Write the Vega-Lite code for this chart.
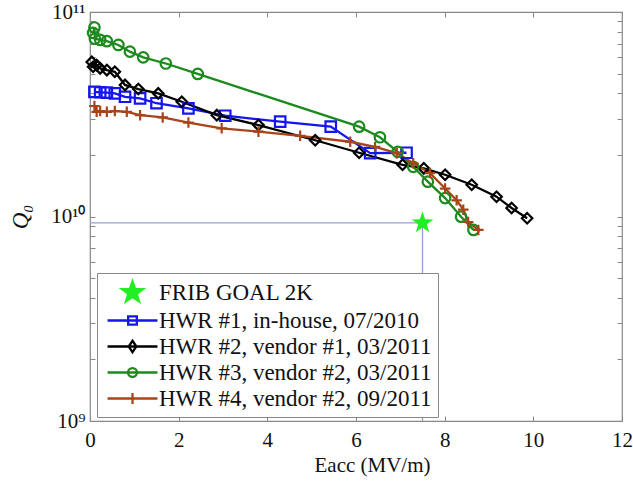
{
  "$schema": "https://vega.github.io/schema/vega-lite/v6.json",
  "width": 532,
  "height": 409,
  "autosize": {"type": "none"},
  "padding": {"left": 90, "top": 12, "right": 11, "bottom": 62},
  "background": "white",
  "config": {
    "view": {"stroke": "#888888", "strokeWidth": 1.2},
    "font": "Liberation Serif",
    "legend": {"labelFont": "Liberation Serif", "labelFontSize": 23},
    "axis": {"labelFont": "Liberation Serif", "titleFont": "Liberation Serif", "labelColor": "#111", "titleColor": "#111", "grid": false, "domain": false, "tickColor": "#888888", "tickSize": -5, "tickWidth": 1}
  },
  "datasets": {
    "runs": [
      {"series": "HWR #1, in-house, 07/2010", "cavity": "HWR #1", "e": 0.1, "q": 4.07e10},
      {"series": "HWR #1, in-house, 07/2010", "cavity": "HWR #1", "e": 0.23, "q": 4.05e10},
      {"series": "HWR #1, in-house, 07/2010", "cavity": "HWR #1", "e": 0.38, "q": 4.03e10},
      {"series": "HWR #1, in-house, 07/2010", "cavity": "HWR #1", "e": 0.56, "q": 4.0e10},
      {"series": "HWR #1, in-house, 07/2010", "cavity": "HWR #1", "e": 0.79, "q": 3.85e10},
      {"series": "HWR #1, in-house, 07/2010", "cavity": "HWR #1", "e": 1.13, "q": 3.78e10},
      {"series": "HWR #1, in-house, 07/2010", "cavity": "HWR #1", "e": 1.5, "q": 3.58e10},
      {"series": "HWR #1, in-house, 07/2010", "cavity": "HWR #1", "e": 2.22, "q": 3.38e10},
      {"series": "HWR #1, in-house, 07/2010", "cavity": "HWR #1", "e": 3.05, "q": 3.11e10},
      {"series": "HWR #1, in-house, 07/2010", "cavity": "HWR #1", "e": 4.29, "q": 2.91e10},
      {"series": "HWR #1, in-house, 07/2010", "cavity": "HWR #1", "e": 5.43, "q": 2.75e10},
      {"series": "HWR #1, in-house, 07/2010", "cavity": "HWR #1", "e": 6.32, "q": 2.04e10},
      {"series": "HWR #1, in-house, 07/2010", "cavity": "HWR #1", "e": 7.14, "q": 2.05e10},
      {"series": "HWR #2, vendor #1, 03/2011", "cavity": "HWR #2", "e": 0.04, "q": 5.7e10},
      {"series": "HWR #2, vendor #1, 03/2011", "cavity": "HWR #2", "e": 0.07, "q": 5.4e10},
      {"series": "HWR #2, vendor #1, 03/2011", "cavity": "HWR #2", "e": 0.15, "q": 5.5e10},
      {"series": "HWR #2, vendor #1, 03/2011", "cavity": "HWR #2", "e": 0.23, "q": 5.3e10},
      {"series": "HWR #2, vendor #1, 03/2011", "cavity": "HWR #2", "e": 0.38, "q": 5.2e10},
      {"series": "HWR #2, vendor #1, 03/2011", "cavity": "HWR #2", "e": 0.56, "q": 5.1e10},
      {"series": "HWR #2, vendor #1, 03/2011", "cavity": "HWR #2", "e": 0.79, "q": 4.4e10},
      {"series": "HWR #2, vendor #1, 03/2011", "cavity": "HWR #2", "e": 1.09, "q": 4.2e10},
      {"series": "HWR #2, vendor #1, 03/2011", "cavity": "HWR #2", "e": 1.54, "q": 4.0e10},
      {"series": "HWR #2, vendor #1, 03/2011", "cavity": "HWR #2", "e": 2.07, "q": 3.64e10},
      {"series": "HWR #2, vendor #1, 03/2011", "cavity": "HWR #2", "e": 2.86, "q": 3.13e10},
      {"series": "HWR #2, vendor #1, 03/2011", "cavity": "HWR #2", "e": 3.8, "q": 2.8e10},
      {"series": "HWR #2, vendor #1, 03/2011", "cavity": "HWR #2", "e": 5.08, "q": 2.36e10},
      {"series": "HWR #2, vendor #1, 03/2011", "cavity": "HWR #2", "e": 6.07, "q": 2.05e10},
      {"series": "HWR #2, vendor #1, 03/2011", "cavity": "HWR #2", "e": 7.05, "q": 1.79e10},
      {"series": "HWR #2, vendor #1, 03/2011", "cavity": "HWR #2", "e": 7.53, "q": 1.72e10},
      {"series": "HWR #2, vendor #1, 03/2011", "cavity": "HWR #2", "e": 8.01, "q": 1.6e10},
      {"series": "HWR #2, vendor #1, 03/2011", "cavity": "HWR #2", "e": 8.61, "q": 1.43e10},
      {"series": "HWR #2, vendor #1, 03/2011", "cavity": "HWR #2", "e": 9.17, "q": 1.25e10},
      {"series": "HWR #2, vendor #1, 03/2011", "cavity": "HWR #2", "e": 9.51, "q": 1.1e10},
      {"series": "HWR #2, vendor #1, 03/2011", "cavity": "HWR #2", "e": 9.86, "q": 9.8e9},
      {"series": "HWR #3, vendor #2, 03/2011", "cavity": "HWR #3", "e": 0.1, "q": 8.4e10},
      {"series": "HWR #3, vendor #2, 03/2011", "cavity": "HWR #3", "e": 0.07, "q": 7.9e10},
      {"series": "HWR #3, vendor #2, 03/2011", "cavity": "HWR #3", "e": 0.11, "q": 7.4e10},
      {"series": "HWR #3, vendor #2, 03/2011", "cavity": "HWR #3", "e": 0.23, "q": 7.3e10},
      {"series": "HWR #3, vendor #2, 03/2011", "cavity": "HWR #3", "e": 0.38, "q": 7.2e10},
      {"series": "HWR #3, vendor #2, 03/2011", "cavity": "HWR #3", "e": 0.64, "q": 6.9e10},
      {"series": "HWR #3, vendor #2, 03/2011", "cavity": "HWR #3", "e": 0.9, "q": 6.4e10},
      {"series": "HWR #3, vendor #2, 03/2011", "cavity": "HWR #3", "e": 1.2, "q": 6.0e10},
      {"series": "HWR #3, vendor #2, 03/2011", "cavity": "HWR #3", "e": 1.71, "q": 5.6e10},
      {"series": "HWR #3, vendor #2, 03/2011", "cavity": "HWR #3", "e": 2.43, "q": 4.98e10},
      {"series": "HWR #3, vendor #2, 03/2011", "cavity": "HWR #3", "e": 6.07, "q": 2.75e10},
      {"series": "HWR #3, vendor #2, 03/2011", "cavity": "HWR #3", "e": 6.54, "q": 2.44e10},
      {"series": "HWR #3, vendor #2, 03/2011", "cavity": "HWR #3", "e": 6.94, "q": 2.07e10},
      {"series": "HWR #3, vendor #2, 03/2011", "cavity": "HWR #3", "e": 7.29, "q": 1.75e10},
      {"series": "HWR #3, vendor #2, 03/2011", "cavity": "HWR #3", "e": 7.62, "q": 1.48e10},
      {"series": "HWR #3, vendor #2, 03/2011", "cavity": "HWR #3", "e": 8.01, "q": 1.23e10},
      {"series": "HWR #3, vendor #2, 03/2011", "cavity": "HWR #3", "e": 8.37, "q": 9.98e9},
      {"series": "HWR #3, vendor #2, 03/2011", "cavity": "HWR #3", "e": 8.65, "q": 8.6e9},
      {"series": "HWR #4, vendor #2, 09/2011", "cavity": "HWR #4", "e": 0.1, "q": 3.47e10},
      {"series": "HWR #4, vendor #2, 09/2011", "cavity": "HWR #4", "e": 0.15, "q": 3.25e10},
      {"series": "HWR #4, vendor #2, 09/2011", "cavity": "HWR #4", "e": 0.23, "q": 3.28e10},
      {"series": "HWR #4, vendor #2, 09/2011", "cavity": "HWR #4", "e": 0.38, "q": 3.25e10},
      {"series": "HWR #4, vendor #2, 09/2011", "cavity": "HWR #4", "e": 0.56, "q": 3.28e10},
      {"series": "HWR #4, vendor #2, 09/2011", "cavity": "HWR #4", "e": 0.83, "q": 3.25e10},
      {"series": "HWR #4, vendor #2, 09/2011", "cavity": "HWR #4", "e": 1.13, "q": 3.13e10},
      {"series": "HWR #4, vendor #2, 09/2011", "cavity": "HWR #4", "e": 1.64, "q": 3.05e10},
      {"series": "HWR #4, vendor #2, 09/2011", "cavity": "HWR #4", "e": 2.22, "q": 2.88e10},
      {"series": "HWR #4, vendor #2, 09/2011", "cavity": "HWR #4", "e": 2.97, "q": 2.7e10},
      {"series": "HWR #4, vendor #2, 09/2011", "cavity": "HWR #4", "e": 3.8, "q": 2.6e10},
      {"series": "HWR #4, vendor #2, 09/2011", "cavity": "HWR #4", "e": 4.74, "q": 2.48e10},
      {"series": "HWR #4, vendor #2, 09/2011", "cavity": "HWR #4", "e": 5.87, "q": 2.32e10},
      {"series": "HWR #4, vendor #2, 09/2011", "cavity": "HWR #4", "e": 6.43, "q": 2.19e10},
      {"series": "HWR #4, vendor #2, 09/2011", "cavity": "HWR #4", "e": 6.92, "q": 2.04e10},
      {"series": "HWR #4, vendor #2, 09/2011", "cavity": "HWR #4", "e": 7.29, "q": 1.82e10},
      {"series": "HWR #4, vendor #2, 09/2011", "cavity": "HWR #4", "e": 7.67, "q": 1.63e10},
      {"series": "HWR #4, vendor #2, 09/2011", "cavity": "HWR #4", "e": 8.01, "q": 1.37e10},
      {"series": "HWR #4, vendor #2, 09/2011", "cavity": "HWR #4", "e": 8.27, "q": 1.2e10},
      {"series": "HWR #4, vendor #2, 09/2011", "cavity": "HWR #4", "e": 8.42, "q": 1.08e10},
      {"series": "HWR #4, vendor #2, 09/2011", "cavity": "HWR #4", "e": 8.53, "q": 9.4e9},
      {"series": "HWR #4, vendor #2, 09/2011", "cavity": "HWR #4", "e": 8.76, "q": 8.6e9},
      {"series": "FRIB GOAL 2K", "cavity": "goal", "e": 7.5, "q": 9.3e9}
    ],
    "guides": [
      {"e": 0, "e2": 7.5, "q": 9.3e9, "q2": 9.3e9},
      {"e": 7.5, "e2": 7.5, "q": 1e9, "q2": 9.3e9}
    ]
  },
  "resolve": {"axis": {"x": "independent", "y": "independent"}},
  "encoding": {
    "x": {"field": "e", "type": "quantitative", "scale": {"domain": [0, 12], "nice": false}, "axis": null},
    "y": {"field": "q", "type": "quantitative", "scale": {"type": "log", "domain": [1e9, 1e11], "nice": false}, "axis": null}
  },
  "layer": [
    {
      "data": {"name": "guides"},
      "mark": {"type": "rule", "color": "#9d9dd6", "strokeWidth": 1.3},
      "encoding": {
        "x": {"field": "e", "type": "quantitative", "scale": {"domain": [0, 12], "nice": false},
              "axis": {"orient": "top", "labels": false, "title": null, "values": [0, 2, 4, 6, 8, 10, 12]}},
        "y": {"field": "q", "type": "quantitative", "scale": {"type": "log", "domain": [1e9, 1e11], "nice": false},
              "axis": {"orient": "right", "labels": false, "title": null,
                       "values": [1e9, 2e9, 3e9, 4e9, 5e9, 6e9, 7e9, 8e9, 9e9, 1e10, 2e10, 3e10, 4e10, 5e10, 6e10, 7e10, 8e10, 9e10, 1e11]}},
        "x2": {"field": "e2"},
        "y2": {"field": "q2"}
      }
    },
    {
      "data": {"name": "runs"},
      "transform": [{"filter": "datum.series !== 'FRIB GOAL 2K'"}],
      "mark": {"type": "line", "strokeWidth": 2.3},
      "encoding": {
        "x": {"field": "e", "type": "quantitative", "scale": {"domain": [0, 12], "nice": false},
              "axis": {"orient": "bottom", "title": "Eacc (MV/m)", "values": [0, 2, 4, 6, 8, 10, 12], "labelFlush": false,
                       "labelFontSize": 21, "labelPadding": 13, "titleFontSize": 21, "titleFontWeight": "normal", "titlePadding": 4, "titleX": 282}},
        "y": {"field": "q", "type": "quantitative", "scale": {"type": "log", "domain": [1e9, 1e11], "nice": false},
              "axis": {"orient": "left", "title": "Q₀", "titleFontStyle": "italic", "titleFontSize": 23, "titleFontWeight": "normal",
                       "titlePadding": 18, "labelFontSize": 21, "labelPadding": 10, "labelFlush": false,
                       "values": [1e9, 2e9, 3e9, 4e9, 5e9, 6e9, 7e9, 8e9, 9e9, 1e10, 2e10, 3e10, 4e10, 5e10, 6e10, 7e10, 8e10, 9e10, 1e11],
                       "labelExpr": "datum.value == 1e9 ? '10⁹' : datum.value == 1e10 ? '10¹⁰' : datum.value == 1e11 ? '10¹¹' : ''"}},
        "color": {"field": "series", "type": "nominal",
                  "scale": {"domain": ["FRIB GOAL 2K", "HWR #1, in-house, 07/2010", "HWR #2, vendor #1, 03/2011", "HWR #3, vendor #2, 03/2011", "HWR #4, vendor #2, 09/2011"],
                            "range": ["#22ee22", "#1515f0", "#000000", "#1c8a1c", "#a8441a"]},
                  "legend": {
                    "orient": "none", "legendX": 7, "legendY": 261, "title": null,
                    "fillColor": "white", "strokeColor": "#888888", "padding": 6,
                    "labelFont": "Liberation Serif", "labelFontSize": 23, "labelColor": "#111", "labelLimit": 0,
                    "symbolSize": 576, "symbolOffset": 16, "labelOffset": 13, "symbolStrokeWidth": 2.3, "rowPadding": 0,
                    "encode": {"symbols": {"update": {
                      "shape": {"signal": "datum.value === 'FRIB GOAL 2K' ? 'M0,-0.92L0.216,-0.298L0.875,-0.284L0.35,0.114L0.541,0.744L0,0.368L-0.541,0.744L-0.35,0.114L-0.875,-0.284L-0.216,-0.298Z' : datum.value === 'HWR #1, in-house, 07/2010' ? 'M-2.08,0H2.08M-0.36,-0.34H0.36V0.34H-0.36Z' : datum.value === 'HWR #2, vendor #1, 03/2011' ? 'M-2.08,0H2.08M0,-0.48L0.32,0L0,0.48L-0.32,0Z' : datum.value === 'HWR #3, vendor #2, 03/2011' ? 'M-2.08,0H2.08M0.37,0A0.37,0.37 0 1,1 -0.37,0A0.37,0.37 0 1,1 0.37,0Z' : 'M-2.08,0H2.08M0,-0.45V0.45'"},
                      "fill": {"signal": "datum.value === 'FRIB GOAL 2K' ? '#22ee22' : 'transparent'"},
                      "stroke": {"signal": "datum.value === 'FRIB GOAL 2K' ? '#22ee22' : scale('color', datum.value)"},
                      "strokeWidth": {"value": 2.3}
                    }}}
                  }}
      }
    },
    {
      "data": {"name": "runs"},
      "transform": [{"filter": "datum.series !== 'FRIB GOAL 2K'"}],
      "mark": {"type": "point", "filled": false, "strokeWidth": 2.2, "size": 110, "opacity": 1},
      "encoding": {
        "color": {"field": "series", "type": "nominal", "legend": null},
        "shape": {"field": "cavity", "type": "nominal",
                  "scale": {"domain": ["HWR #1", "HWR #2", "HWR #3", "HWR #4"],
                            "range": ["square", "diamond", "circle", "M-1,0H1M0,-1V1"]},
                  "legend": null}
      }
    },
    {
      "data": {"name": "runs"},
      "transform": [{"filter": "datum.series === 'FRIB GOAL 2K'"}],
      "mark": {"type": "point", "filled": true, "size": 520, "opacity": 1, "shape": "M0,-1L0.235,-0.324L0.951,-0.309L0.38,0.124L0.588,0.809L0,0.4L-0.588,0.809L-0.38,0.124L-0.951,-0.309L-0.235,-0.324Z", "color": "#22ee22"},
      "encoding": {}
    }
  ]
}
